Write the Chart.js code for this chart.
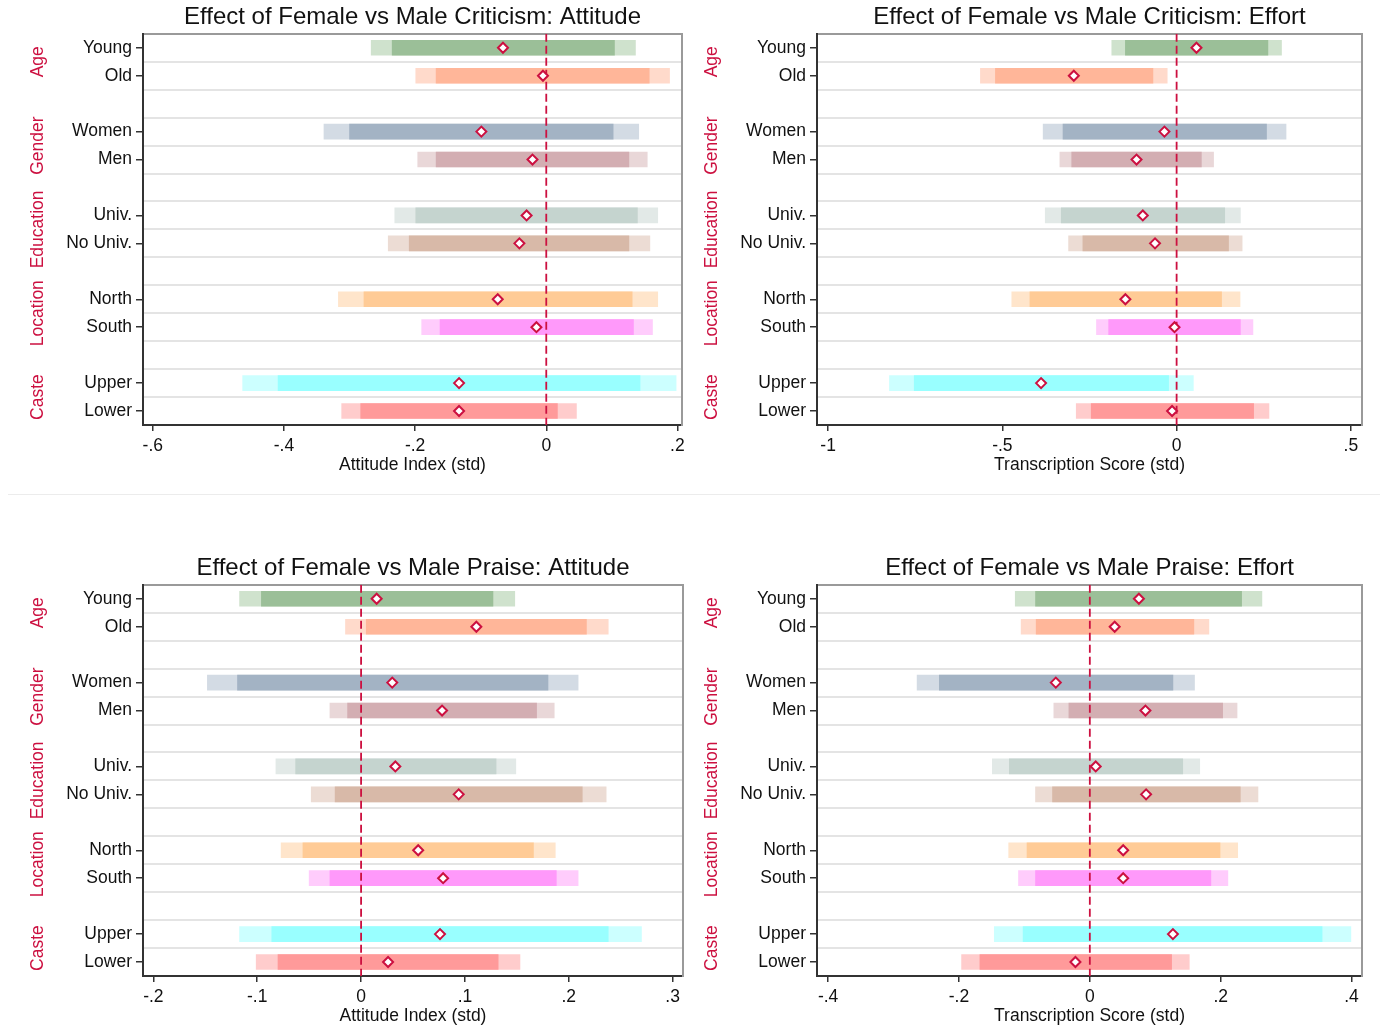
<!DOCTYPE html>
<html>
<head>
<meta charset="utf-8">
<script src="https://cdn.jsdelivr.net/npm/chart.js@4.4.1/dist/chart.umd.min.js"></script>
<style>
html, body { margin: 0; padding: 0; background: #fff; overflow: hidden; width: 1380px; height: 1025px; }
canvas { position: absolute; }
#sep { position: absolute; left: 8px; top: 494px; width: 1372px; height: 1px; background: #ececec; }
</style>
</head>
<body>
<canvas id="critAtt" width="690" height="480" style="left:0;top:0"></canvas>
<canvas id="critEff" width="706" height="480" style="left:674px;top:0"></canvas>
<div id="sep"></div>
<canvas id="praiseAtt" width="690" height="480" style="left:0;top:551px"></canvas>
<canvas id="praiseEff" width="706" height="480" style="left:674px;top:551px"></canvas>
<script>
const groups = ["Age", "Gender", "Education", "Location", "Caste"];
const categories = ["Young", "Old", "Women", "Men", "Univ.", "No Univ.", "North", "South", "Upper", "Lower"];

// criticism - attitude index
const critAttEst  = [-0.066, -0.005, -0.099, -0.021, -0.030, -0.041, -0.074, -0.015, -0.133, -0.133];
const critAttLo95 = [-0.267, -0.199, -0.339, -0.196, -0.231, -0.241, -0.317, -0.190, -0.463, -0.312];
const critAttLo90 = [-0.235, -0.168, -0.300, -0.168, -0.199, -0.209, -0.278, -0.162, -0.409, -0.283];
const critAttHi90 = [0.104, 0.157, 0.102, 0.126, 0.139, 0.126, 0.131, 0.133, 0.143, 0.017];
const critAttHi95 = [0.136, 0.188, 0.141, 0.154, 0.170, 0.158, 0.170, 0.162, 0.198, 0.046];
const critAttTicks = [-0.6, -0.4, -0.2, 0, 0.2];
const critAttTickLabels = ["-.6", "-.4", "-.2", "0", ".2"];

// criticism - transcription score
const critEffEst  = [0.057, -0.295, -0.035, -0.115, -0.097, -0.062, -0.147, -0.006, -0.389, -0.013];
const critEffLo95 = [-0.186, -0.563, -0.383, -0.335, -0.377, -0.310, -0.473, -0.230, -0.824, -0.288];
const critEffLo90 = [-0.147, -0.520, -0.326, -0.301, -0.331, -0.269, -0.421, -0.195, -0.753, -0.245];
const critEffHi90 = [0.262, -0.068, 0.258, 0.071, 0.138, 0.149, 0.129, 0.183, -0.023, 0.221];
const critEffHi95 = [0.301, -0.027, 0.314, 0.106, 0.183, 0.188, 0.182, 0.219, 0.048, 0.265];
const critEffTicks = [-1, -0.5, 0, 0.5];
const critEffTickLabels = ["-1", "-.5", "0", ".5"];

// praise - attitude index
const praiseAttEst  = [0.015, 0.111, 0.030, 0.078, 0.033, 0.094, 0.055, 0.079, 0.076, 0.026];
const praiseAttLo95 = [-0.117, -0.015, -0.148, -0.030, -0.082, -0.048, -0.077, -0.050, -0.117, -0.101];
const praiseAttLo90 = [-0.096, 0.005, -0.119, -0.013, -0.063, -0.025, -0.056, -0.030, -0.086, -0.080];
const praiseAttHi90 = [0.127, 0.217, 0.180, 0.169, 0.130, 0.213, 0.166, 0.188, 0.238, 0.132];
const praiseAttHi95 = [0.148, 0.238, 0.209, 0.186, 0.149, 0.236, 0.187, 0.209, 0.270, 0.153];
const praiseAttTicks = [-0.2, -0.1, 0, 0.1, 0.2, 0.3];
const praiseAttTickLabels = ["-.2", "-.1", "0", ".1", ".2", ".3"];

// praise - transcription score
const praiseEffEst  = [0.075, 0.038, -0.052, 0.085, 0.009, 0.086, 0.051, 0.051, 0.127, -0.022];
const praiseEffLo95 = [-0.114, -0.105, -0.264, -0.055, -0.149, -0.083, -0.124, -0.109, -0.146, -0.196];
const praiseEffLo90 = [-0.083, -0.082, -0.230, -0.032, -0.123, -0.057, -0.096, -0.083, -0.102, -0.168];
const praiseEffHi90 = [0.232, 0.159, 0.127, 0.203, 0.142, 0.230, 0.199, 0.185, 0.355, 0.125];
const praiseEffHi95 = [0.263, 0.182, 0.160, 0.225, 0.168, 0.257, 0.226, 0.211, 0.399, 0.152];
const praiseEffTicks = [-0.4, -0.2, 0, 0.2, 0.4];
const praiseEffTickLabels = ["-.4", "-.2", "0", ".2", ".4"];

const innerColors = ["#9bbf98", "#ffb699", "#a3b3c4", "#d3aeb2", "#c5d4cf", "#d8b9a8", "#ffcb96", "#ff99fa", "#99ffff", "#ff9a9a"];
const outerColors = ["#cfe2cd", "#ffdacb", "#d3dbe4", "#e9d7d8", "#e2e9e7", "#ecdcd4", "#ffe5cb", "#ffccfc", "#ccffff", "#ffcccc"];
const RED = "#cc1040";
const FONT = "'Liberation Sans', Arial, sans-serif";

// row slot: two rows per group, one empty slot between groups
const slot = i => Math.floor(i / 2) * 3 + (i % 2);
const lastSlot = slot(categories.length - 1);

const groupLabels = {
  id: "groupLabels",
  afterDraw(chart) {
    const ys = chart.scales.y;
    const ctx = chart.ctx;
    ctx.save();
    ctx.fillStyle = RED;
    ctx.font = "17.5px " + FONT;
    ctx.textAlign = "center";
    ctx.textBaseline = "middle";
    groups.forEach((g, gi) => {
      const yc = (ys.getPixelForValue(slot(gi * 2)) + ys.getPixelForValue(slot(gi * 2 + 1))) / 2;
      ctx.save();
      ctx.translate(38, yc);
      ctx.rotate(-Math.PI / 2);
      ctx.fillText(g, 0, 0);
      ctx.restore();
    });
    ctx.restore();
  }
};

function makeChart(id, title, xTitle, est, lo95, lo90, hi90, hi95, ticks, tickLabels, xmin, xmax, padRight) {
  const yRange = { min: -0.5, max: lastSlot + 0.5, reverse: true, offset: false };
  new Chart(id, {
    type: "bar",
    data: {
      datasets: [
        {
          type: "scatter",
          data: est.map((v, i) => ({ x: v, y: slot(i) })),
          pointStyle: "rectRot",
          radius: 5,
          backgroundColor: "#fff",
          borderColor: RED,
          borderWidth: 2,
          yAxisID: "y", xAxisID: "x",
          order: 0
        },
        {
          type: "line",
          data: [{ x: 0, y: -0.5 }, { x: 0, y: lastSlot + 0.5 }],
          borderColor: RED,
          borderWidth: 1.8,
          borderDash: [8, 4],
          pointRadius: 0,
          yAxisID: "y", xAxisID: "x",
          order: 1
        },
        {
          data: categories.map((c, i) => ({ x: [lo90[i], hi90[i]], y: slot(i) })),
          backgroundColor: innerColors,
          barThickness: 15,
          grouped: false,
          yAxisID: "y", xAxisID: "x",
          order: 2
        },
        {
          data: categories.map((c, i) => ({ x: [lo95[i], hi95[i]], y: slot(i) })),
          backgroundColor: outerColors,
          barThickness: 15,
          grouped: false,
          yAxisID: "y", xAxisID: "x",
          order: 3
        }
      ]
    },
    options: {
      indexAxis: "y",
      responsive: false,
      animation: false,
      layout: { padding: { left: 0, right: padRight, top: 0, bottom: 0 } },
      plugins: {
        legend: { display: false },
        tooltip: { enabled: false },
        title: {
          display: true,
          text: title,
          fullSize: false,
          color: "#111",
          font: { family: FONT, size: 24, weight: "normal" },
          padding: { top: 3, bottom: 2 }
        }
      },
      scales: {
        x: {
          type: "linear",
          position: "bottom",
          min: xmin, max: xmax,
          offset: false,
          afterBuildTicks: s => { s.ticks = ticks.map(v => ({ value: v })); },
          afterFit: s => { s.height = 55; },
          ticks: {
            callback: (v) => tickLabels[ticks.indexOf(v)],
            color: "#111",
            font: { family: FONT, size: 17.5 },
            padding: 5,
            maxRotation: 0
          },
          grid: { drawOnChartArea: false, offset: false, tickLength: 6, color: "#333", lineWidth: 1.5 },
          border: { color: "#333", width: 2 },
          title: { display: true, text: xTitle, color: "#111", font: { family: FONT, size: 17.5 }, padding: { top: 0, bottom: 4 } }
        },
        xTop: {
          type: "linear",
          position: "top",
          min: xmin, max: xmax,
          offset: false,
          ticks: { display: false },
          grid: { display: false, drawTicks: false, offset: false },
          border: { color: "#9a9a9a", width: 2 },
          afterFit: s => { s.height = 0; }
        },
        y: {
          type: "linear",
          position: "left",
          ...yRange,
          afterBuildTicks: s => { s.ticks = categories.map((c, i) => ({ value: slot(i) })); },
          afterFit: s => { s.width = 143; },
          ticks: {
            callback: (v) => categories[categories.findIndex((c, i) => slot(i) === v)],
            color: "#111",
            font: { family: FONT, size: 17.5 },
            padding: 4
          },
          grid: { drawOnChartArea: false, offset: false, tickLength: 7, color: "#333", lineWidth: 1.5 },
          border: { color: "#333", width: 2 }
        },
        yGrid: {
          type: "linear",
          position: "right",
          ...yRange,
          afterBuildTicks: s => {
            const t = [];
            for (let k = 0; k < lastSlot; k++) t.push({ value: k + 0.5 });
            s.ticks = t;
          },
          afterFit: s => { s.width = 0; },
          ticks: { display: false },
          grid: { color: "#e4e4e4", lineWidth: 2, drawTicks: false, offset: false },
          border: { color: "#9a9a9a", width: 2 }
        }
      }
    },
    plugins: [groupLabels]
  });
}

makeChart("critAtt", "Effect of Female vs Male Criticism: Attitude", "Attitude Index (std)",
  critAttEst, critAttLo95, critAttLo90, critAttHi90, critAttHi95, critAttTicks, critAttTickLabels, -0.615, 0.207, 8);
makeChart("critEff", "Effect of Female vs Male Criticism: Effort", "Transcription Score (std)",
  critEffEst, critEffLo95, critEffLo90, critEffHi90, critEffHi95, critEffTicks, critEffTickLabels, -1.032, 0.532, 18);
makeChart("praiseAtt", "Effect of Female vs Male Praise: Attitude", "Attitude Index (std)",
  praiseAttEst, praiseAttLo95, praiseAttLo90, praiseAttHi90, praiseAttHi95, praiseAttTicks, praiseAttTickLabels, -0.210, 0.310, 3);
makeChart("praiseEff", "Effect of Female vs Male Praise: Effort", "Transcription Score (std)",
  praiseEffEst, praiseEffLo95, praiseEffLo90, praiseEffHi90, praiseEffHi95, praiseEffTicks, praiseEffTickLabels, -0.417, 0.416, 18);
</script>
</body>
</html>
